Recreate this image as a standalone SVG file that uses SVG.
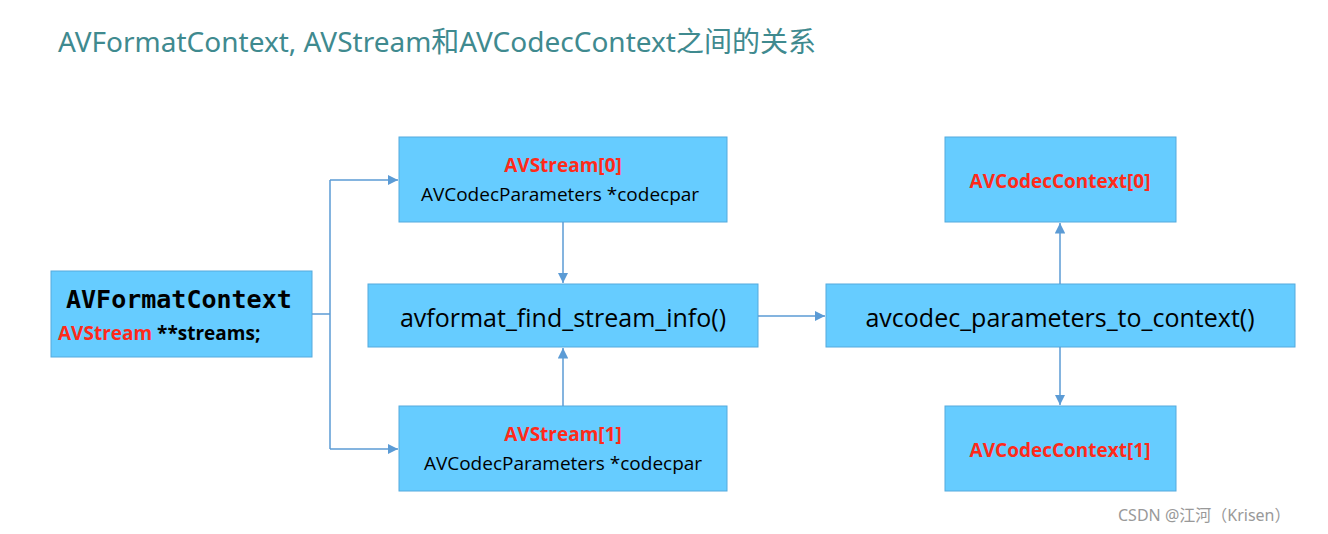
<svg xmlns="http://www.w3.org/2000/svg" width="1328" height="534" viewBox="0 0 1328 534">
<style>
.box{fill:#66ccff;stroke:#55aadd;stroke-width:1}
.t{font-family:"Open Sans","Noto Sans",sans-serif;fill:#000}
.r{font-family:"Open Sans","Noto Sans",sans-serif;fill:#ff2a1a;font-weight:bold}
.c{fill:none;stroke:#5b9bd5;stroke-width:1.5}
</style>
<defs><marker id="a" viewBox="0 0 10 10" refX="10" refY="5" markerWidth="7" markerHeight="7" orient="auto"><path d="M0,0 L10,5 L0,10 z" fill="#5b9bd5"/></marker></defs>
<rect width="1328" height="534" fill="#fff"/>
<text x="58" y="52" font-family="'Noto Sans','Noto Sans CJK SC',sans-serif" font-size="28" fill="#3f8a8f">AVFormatContext, AVStream和AVCodecContext之间的关系</text>
<g id="fmt"><rect class="box" x="51" y="271" width="261" height="86"/>
<text x="66" y="308" font-family="'DejaVu Sans Mono',monospace" font-weight="bold" font-size="25">AVFormatContext</text>
<text x="58" y="340" font-size="19" class="r">AVStream <tspan fill="#000">**streams;</tspan></text></g>
<g id="s0"><rect class="box" x="399" y="137" width="328" height="85"/>
<text x="563" y="172" class="r" font-size="19" text-anchor="middle">AVStream[0]</text>
<text x="560" y="201" class="t" font-size="19" text-anchor="middle">AVCodecParameters *codecpar</text></g>
<g id="find"><rect class="box" x="368" y="284" width="390" height="63"/>
<text x="563" y="327" class="t" font-size="25" text-anchor="middle">avformat_find_stream_info()</text></g>
<g id="s1"><rect class="box" x="399" y="406" width="328" height="85"/>
<text x="563" y="441" class="r" font-size="19" text-anchor="middle">AVStream[1]</text>
<text x="563" y="470" class="t" font-size="19" text-anchor="middle">AVCodecParameters *codecpar</text></g>
<g id="p2c"><rect class="box" x="826" y="284" width="469" height="63"/>
<text x="1060" y="327" class="t" font-size="25" text-anchor="middle">avcodec_parameters_to_context()</text></g>
<g id="cc0"><rect class="box" x="945" y="137" width="231" height="85"/>
<text x="1060" y="188" class="r" font-size="19" text-anchor="middle">AVCodecContext[0]</text></g>
<g id="cc1"><rect class="box" x="945" y="406" width="231" height="85"/>
<text x="1060" y="457" class="r" font-size="19" text-anchor="middle">AVCodecContext[1]</text></g>
<g id="connectors">
<path class="c" d="M312,314 H330"/>
<path class="c" d="M330,180 V449"/>
<path class="c" d="M330,180 H398" marker-end="url(#a)"/>
<path class="c" d="M330,449 H398" marker-end="url(#a)"/>
<path class="c" d="M563,222 V283" marker-end="url(#a)"/>
<path class="c" d="M563,406 V348" marker-end="url(#a)"/>
<path class="c" d="M758,316 H825" marker-end="url(#a)"/>
<path class="c" d="M1060,284 V223" marker-end="url(#a)"/>
<path class="c" d="M1060,347 V405" marker-end="url(#a)"/>
</g>
<text x="1118" y="521" font-family="'Noto Sans','Noto Sans CJK SC',sans-serif" font-size="16" fill="#999">CSDN @江河（Krisen）</text>
</svg>
